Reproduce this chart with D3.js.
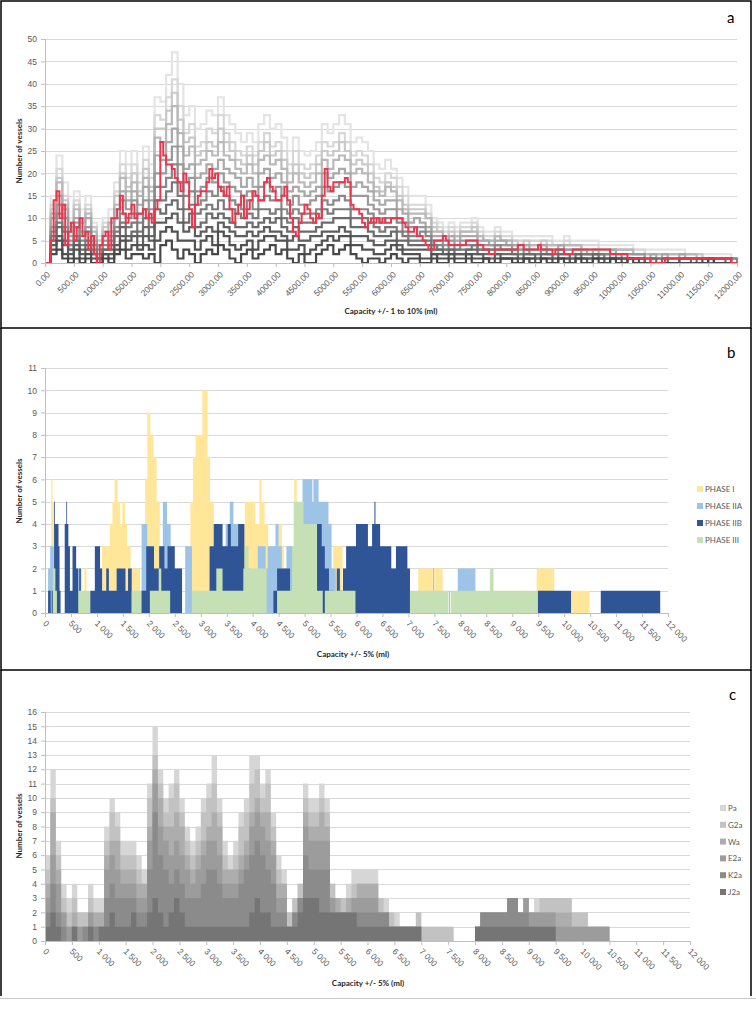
<!DOCTYPE html>
<html>
<head>
<meta charset="utf-8">
<script src="https://cdn.jsdelivr.net/npm/d3@7"></script>
<style>
body { margin: 0; background: #fff; }
svg { display: block; font-family: Lato, "Open Sans", sans-serif; }
.tick text { fill: #595959; font-size: 8.5px; }
.ttl { font-weight: bold; font-size: 8px; fill: #262626; }
.leg { font-size: 8px; fill: #595959; }
.letter { font-size: 15px; fill: #000; }
</style>
</head>
<body>
<svg id="chart" width="756" height="1015"></svg>
<script>
"use strict";

// ---- panel a : number of vessels per capacity, step 100 ml (gray) and 50 ml (red)
var capTicks = [0,500,1000,1500,2000,2500,3000,3500,4000,4500,5000,5500,6000,6500,7000,7500,8000,8500,9000,9500,10000,10500,11000,11500,12000];
var yTicksA = [0,5,10,15,20,25,30,35,40,45,50];
var yTicksB = [0,1,2,3,4,5,6,7,8,9,10,11];
var yTicksC = [0,1,2,3,4,5,6,7,8,9,10,11,12,13,14,15,16];

var grayLine1 = [0,2,3,1,0,1,0,1,0,0, 1,0,2,3,1,2,2,1,2,0, 4,5,3,1,3,2,0,2,3,2, 4,3,1,0,2,3,1,2,3,4, 2,3,1,0,2,0,0,2,3,4, 2,3,4,2,1,0,1,1,0,1, 2,1,0,1,1,0,0,1,0,0, 1,0,0,1,0,0,1,0,0,1, 1,0,0,1,0,0,1,0,0,1, 0,0,1,0,0,1,0,0,1,0, 0,1,0,0,0,0,0,0,0,0, 0,0,0,0,0,1,0,0,0,0, 0];
var grayLine2 = [0,3,5,2,1,3,1,2,1,0, 2,1,3,5,3,4,3,4,3,5, 7,8,7,5,5,5,3,5,6,4, 7,6,4,3,4,5,3,5,6,6, 5,5,3,3,4,2,3,4,5,6, 5,6,6,4,4,3,3,2,2,3, 4,3,2,2,2,1,1,2,1,1, 2,1,1,2,1,1,1,0,1,1, 1,1,0,1,1,0,1,1,0,1, 1,0,1,1,0,1,1,0,1,1, 0,1,1,0,0,0,0,0,0,0, 0,0,0,0,1,1,0,0,0,0, 0];
var grayLine3 = [0,4,6,4,2,4,2,3,2,1, 2,2,4,6,5,6,4,6,5,9, 9,10,11,9,7,8,6,7,8,7, 9,8,7,6,6,7,6,7,8,7, 7,6,5,6,5,5,6,6,7,7, 7,8,7,6,6,6,5,4,4,5, 5,4,3,3,3,3,3,2,2,2, 2,2,2,2,2,2,1,1,2,1, 1,1,1,1,1,1,1,1,1,1, 1,1,1,1,1,1,1,1,1,1, 1,1,1,1,0,0,0,0,0,0, 1,1,1,1,1,1,1,1,1,0, 0];
var grayLine4 = [0,5,8,5,3,5,3,4,2,1, 3,3,6,8,6,7,6,8,6,12, 11,13,14,12,9,11,8,9,11,10, 11,10,9,8,8,9,8,9,10,9, 10,8,7,8,7,7,7,8,9,9, 10,10,10,8,8,8,7,6,6,6, 7,5,5,4,4,4,4,3,3,2, 3,2,2,3,3,2,2,2,2,2, 2,2,1,2,2,1,2,2,1,2, 2,1,2,1,1,2,1,1,1,1, 1,1,1,1,0,1,0,1,0,0, 1,1,0,1,1,0,1,1,0,0, 0];
var grayLine5 = [0,6,9,7,3,6,4,5,3,1, 3,4,7,9,8,9,7,10,8,14, 14,16,18,15,12,13,11,12,13,12, 14,12,12,11,10,11,10,12,12,11, 12,10,9,10,9,9,9,10,12,11, 12,12,12,10,10,10,9,8,7,8, 8,7,6,5,5,5,5,4,3,3, 3,3,3,3,4,3,3,3,3,3, 3,2,2,2,2,2,2,2,2,2, 2,2,2,2,2,2,2,1,1,1, 1,1,1,1,1,1,1,1,1,1, 1,1,1,1,1,1,1,1,1,0, 0];
var grayLine6 = [0,7,11,8,4,8,5,7,4,2, 4,5,8,11,10,11,9,12,10,17, 17,19,22,18,15,16,13,14,16,15, 17,15,14,13,12,14,12,14,15,14, 14,12,11,12,11,11,11,12,14,13, 14,15,14,12,12,12,11,10,9,10, 10,9,7,6,6,7,6,4,4,3, 4,3,4,4,4,3,3,3,4,3, 3,3,2,3,2,2,3,2,2,3, 2,2,2,2,2,2,2,2,1,2, 1,1,1,1,1,1,1,1,1,1, 1,1,1,1,1,1,1,1,1,1, 0];
var grayLine7 = [0,8,13,10,5,9,6,8,5,3, 5,6,10,14,12,14,11,14,12,20, 20,23,26,22,18,19,16,17,19,18, 20,18,17,16,15,16,15,17,18,16, 17,15,13,15,13,13,14,15,17,16, 17,18,17,15,15,15,13,12,11,12, 12,10,9,8,8,8,7,5,5,4, 5,4,5,5,5,4,4,4,4,4, 4,3,3,3,3,3,3,3,3,3, 3,3,3,2,2,2,2,2,2,2, 2,2,2,2,1,1,1,1,1,1, 1,1,1,1,1,1,1,1,1,1, 1];
var grayLine8 = [0,10,15,12,6,10,7,10,6,4, 6,7,12,16,14,16,13,17,14,24, 23,27,30,26,21,22,19,20,22,21, 23,21,20,19,17,19,17,20,21,19, 20,18,16,17,16,15,16,17,20,19, 20,21,20,17,18,17,16,14,13,14, 14,12,11,9,10,9,8,6,6,5, 6,5,6,6,6,5,5,4,5,5, 4,4,3,4,3,3,4,3,3,4, 3,3,3,3,2,3,2,2,3,2, 2,2,2,2,1,2,1,2,1,1, 2,1,1,1,1,1,1,1,1,1, 1];
var grayLine9 = [0,11,18,13,7,12,9,11,7,4, 7,9,13,19,16,18,15,19,16,28, 27,31,35,29,24,26,22,23,25,24, 27,24,23,21,20,22,20,23,24,22, 23,21,18,20,18,17,18,20,23,21, 23,24,23,20,21,20,18,16,15,17, 16,14,12,11,11,11,10,7,7,6, 6,6,7,7,7,6,5,5,6,5, 5,4,4,4,4,4,4,4,4,4, 4,4,4,3,3,3,3,3,3,3, 3,3,2,2,2,2,2,2,2,2, 2,2,2,1,1,1,1,1,1,1, 1];
var grayLine10 = [0,12,19,14,8,13,10,12,8,5, 8,9,15,20,17,20,16,21,17,30, 30,34,38,32,27,28,24,25,27,26, 30,27,25,23,22,24,22,25,27,24, 25,23,20,22,20,19,20,22,25,24, 25,27,25,22,23,22,20,17,16,18, 17,15,13,12,12,12,10,8,7,6, 7,6,7,7,8,6,5,5,6,5, 5,5,4,5,4,4,5,4,4,4, 4,4,4,3,3,3,3,3,3,3, 3,3,2,2,2,2,2,2,2,2, 2,2,2,2,1,1,1,1,1,1, 1];
var grayLine11 = [0,13,21,15,9,14,10,13,8,5, 9,10,16,22,19,22,18,23,19,33, 32,37,41,35,29,31,26,27,30,29, 33,29,27,25,24,26,24,27,29,26, 27,25,22,25,22,21,22,24,27,26, 27,29,27,24,25,24,22,19,18,20, 19,17,15,13,13,13,11,9,8,7, 8,7,8,8,9,7,6,6,7,6, 6,5,5,5,5,5,5,5,4,4, 5,4,4,4,4,4,3,3,3,3, 3,3,3,3,2,2,2,2,2,2, 2,2,2,2,1,1,1,1,1,1, 1];
var grayLine12 = [0,15,24,18,10,16,12,15,9,6, 10,12,18,25,22,25,20,26,22,37, 36,42,47,40,33,35,30,31,34,33, 37,33,31,29,27,29,27,31,33,30, 31,28,25,28,25,24,25,27,31,29, 31,33,31,27,28,27,25,22,21,23, 21,19,17,15,15,15,13,10,9,8, 9,8,9,9,10,8,7,7,8,7, 7,6,6,6,6,6,6,6,5,5, 6,5,5,5,5,5,4,4,4,4, 4,4,3,3,3,3,3,3,3,3, 3,2,2,2,2,2,2,2,2,1, 1];
var grayColorsA = ['#474747','#525252','#5e5e5e','#6b6b6b','#7a7a7a','#898989','#999999','#a9a9a9','#b9b9b9','#c9c9c9','#d7d7d7','#e4e4e4'];

var redLine = [0,0,5,14,16,10,13,4,7,9, 5,8,10,6,7,3,6,2,0,4,
    6,7,3,10,10,12,15,11,9,11, 13,10,11,11,12,10,11,9,12,14,
    27,24,22,22,21,19,18,16,20,18, 12,8,13,15,16,16,18,21,19,20,
    17,16,15,17,12,9,11,13,15,10, 12,14,16,15,14,14,18,19,17,16,
    14,14,15,17,14,10,7,6,9,11, 13,12,10,9,11,10,15,21,17,16,
    18,18,18,18,19,18,13,12,12,11, 9,8,9,10,9,10,9,10,9,9,
    10,10,10,10,9,8,7,7,8,6, 6,5,4,3,3,5,5,5,6,5,
    4,4,4,4,4,4,5,5,5,5, 4,4,3,3,2,2,3,3,3,3,
    3,3,3,3,4,4,3,3,3,3, 3,4,3,3,3,3,2,3,3,3,
    2,2,2,3,3,3,3,3,3,3, 3,3,3,3,3,3,2,2,2,2,
    2,2,1,1,1,1,1,1,1,1, 0,0,0,0,0,1,1,1,1,1,
    1,1,1,1,1,1,1,1,1,1, 1,1,1,1,1,1,1,1,0,0,
    0];

// ---- panel b : [capacity where the step starts, number of vessels]
var phaseNames = ['PHASE I', 'PHASE IIA', 'PHASE IIB', 'PHASE III'];
var phaseColors = ['#ffe699', '#9dc3e6', '#2f5597', '#c5e0b4'];
var phase1 = [[0,0],[120,6],[145,5],[175,2],[210,0],[680,2],[720,0],[760,2],[800,0],
    [1100,3],[1250,4],[1300,5],[1340,6],[1400,5],[1450,4],[1490,5],[1540,4],[1580,3],[1650,2],[1830,0],
    [1930,6],[1970,9],[2030,8],[2090,7],[2150,5],[2210,2],[2280,0],
    [2800,5],[2850,7],[2900,8],[3030,10],[3130,7],[3180,5],[3250,0],
    [3650,4],[3850,5],[4050,4],[4130,6],[4170,5],[4230,4],[4300,3],[4370,0],
    [4500,4],[4560,3],[4600,0],[4800,6],[4850,5],[4900,0],[5550,3],[5730,0],
    [7190,2],[7470,0],[7500,2],[7660,0],[9470,2],[9810,0],[10150,1],[10490,0]];
var phase2a = [[60,2],[100,3],[170,2],[200,0],[640,2],[690,0],[1860,4],[1970,3],[2030,0],
    [2200,3],[2270,5],[2350,4],[2420,3],[2480,0],[2700,3],[2830,0],
    [3480,4],[3560,5],[3630,4],[3720,0],[4100,3],[4250,2],[4290,3],[4440,4],[4500,3],[4560,0],
    [4650,3],[4780,0],[4960,6],[5150,5],[5170,6],[5270,5],[5460,4],[5520,2],[5600,0],
    [7475,2],[7495,0],[7780,1],[7800,0],[7950,2],[8290,0]];
var phase2b = [[60,1],[110,0],[130,1],[175,5],[190,4],[260,3],[280,1],[300,0],
    [380,4],[410,5],[425,4],[450,3],[480,1],[530,3],[600,2],[640,1],[660,2],[690,0],
    [870,1],[960,3],[1060,2],[1100,1],[1180,2],[1230,1],[1380,2],[1550,1],[1600,2],[1670,0],
    [1850,1],[1950,3],[2100,2],[2200,3],[2300,2],[2360,3],[2500,2],[2640,0],
    [3170,3],[3250,4],[3420,3],[3520,4],[3580,3],[3720,4],[3840,2],[3920,1],[3960,0],
    [4400,1],[4470,2],[4720,0],[5220,4],[5330,3],[5390,2],[5470,1],[5550,0],
    [5620,2],[5680,1],[5740,2],[5800,3],[5990,4],[6220,3],[6300,4],[6345,5],[6365,4],
    [6455,3],[6670,2],[6760,3],[6980,2],[7030,0],[9490,1],[10135,0],[10705,1],[11850,0]];
var phase3 = [[150,2],[200,1],[230,0],[640,1],[870,0],[1670,1],[1860,0],
    [2020,1],[2190,2],[2240,1],[2410,0],[2830,1],[3300,2],[3420,1],[3820,2],[3850,3],[3920,2],[4270,0],
    [4470,1],[4760,3],[4790,5],[4980,4],[5240,1],[5350,0],[5390,1],[5980,0],
    [7030,1],[7770,0],[7815,1],[8570,2],[8640,1],[9490,0]];

// ---- panel c : number of vessels per 100 ml class
var groupNames = ['Pa', 'G2a', 'Wa', 'E2a', 'K2a', 'J2a'];
var groupColors = ['#d6d6d6', '#c2c2c2', '#adadad', '#9c9c9c', '#8b8b8b', '#757575'];
var groupPa  = [6,12,7,4,3,4,2,2,4,3, 3,8,10,9,7,7,7,6,5,11, 15,12,10,11,12,10,8,7,8,10, 11,13,10,7,6,7,9,10,13,13, 11,12,9,6,5,2,3,4,11,10, 10,11,10,4,3,3,4,5,5,5, 5,5,3,3,2,2,1,1,1,2, 1,1,1,1,1,1,0,0,0,0, 1,2,2,2,2,2,3,3,2,3, 2,3,3,3,3,3,3,3,2,2, 2,1,1,1,1,0,0,0,0,0, 0,0,0,0,0,0,0,0,0,0, 0];
var groupG2a = [5,10,6,3,2,3,2,2,3,2, 2,7,9,8,6,6,6,5,4,10, 13,11,9,10,11,9,7,6,7,9, 10,11,9,6,5,6,8,9,11,12, 10,11,8,5,4,2,3,4,10,9, 9,10,9,4,3,3,3,4,4,4, 4,4,3,2,2,1,1,1,1,2, 1,1,1,1,1,1,0,0,0,0, 1,2,2,2,2,2,3,3,2,3, 2,2,3,3,3,3,3,3,2,2, 2,1,1,1,1,0,0,0,0,0, 0,0,0,0,0,0,0,0,0,0, 0];
var groupWa  = [4,9,5,2,1,2,1,1,2,2, 2,6,7,7,5,5,5,4,4,8, 12,10,8,8,9,8,6,5,6,7, 8,9,8,5,5,5,6,7,9,10, 9,9,7,4,4,1,2,3,9,8, 8,9,8,3,3,2,3,3,4,4, 4,4,2,2,1,1,1,1,1,1, 0,0,0,0,0,0,0,0,0,0, 1,2,2,2,2,2,3,3,2,3, 2,2,2,2,2,2,2,2,1,1, 1,1,1,1,1,0,0,0,0,0, 0,0,0,0,0,0,0,0,0,0, 0];
var groupE2a = [3,6,4,2,1,1,1,1,2,1, 1,5,6,5,4,4,4,3,3,7, 11,8,7,6,7,6,5,4,5,6, 7,7,6,4,4,4,5,6,8,9, 8,7,6,3,3,1,2,3,8,7, 7,7,7,3,2,2,2,3,3,3, 3,3,2,2,1,1,1,1,1,1, 0,0,0,0,0,0,0,0,0,0, 1,2,2,2,2,2,3,3,2,3, 2,2,2,2,2,1,1,1,1,1, 1,1,1,1,1,0,0,0,0,0, 0,0,0,0,0,0,0,0,0,0, 0];
var groupK2a = [2,4,2,1,0,1,0,1,1,1, 1,3,4,3,3,3,3,2,2,5, 9,6,5,4,5,4,3,3,3,4, 5,5,4,3,3,3,4,5,6,7, 6,5,4,2,2,1,2,3,6,5, 5,5,5,2,2,2,2,2,2,2, 2,2,2,2,1,1,1,1,1,1, 0,0,0,0,0,0,0,0,0,0, 1,2,2,2,2,2,3,3,2,2, 1,1,1,1,1,0,0,0,0,0, 0,0,0,0,0,0,0,0,0,0, 0,0,0,0,0,0,0,0,0,0, 0];
var groupJ2a = [1,2,1,0,0,1,0,0,1,0, 1,1,2,1,1,1,2,1,1,2, 3,2,1,2,3,2,1,1,1,1, 1,1,1,1,1,1,1,1,2,3, 2,2,1,1,1,1,1,2,3,3, 3,2,2,2,2,2,2,2,1,1, 1,1,1,1,1,1,1,1,1,1, 0,0,0,0,0,0,0,0,0,0, 1,1,1,1,1,1,1,1,1,1, 1,1,1,1,1,0,0,0,0,0, 0,0,0,0,0,0,0,0,0,0, 0,0,0,0,0,0,0,0,0,0, 0];


var svg = d3.select('#chart');
var spaceFmt = d3.formatLocale({ decimal: ',', thousands: ' ', grouping: [3], currency: ['', ''] }).format(',');
function commaFmt( v ) { return v.toFixed(2).replace('.', ','); }

function makePanel( opt ) {
    var x = d3.scaleLinear().domain([0, 12000]).range([opt.left, opt.right]);
    var y = d3.scaleLinear().domain([0, opt.ymax]).range([opt.bottom, opt.top]);
    var g = svg.append('g');

    g.append('g').selectAll('line')
        .data(opt.yTicks.filter(function( d ) { return d > 0; }))
        .enter().append('line')
            .attr('x1', opt.left).attr('x2', opt.right)
            .attr('y1', function( d ) { return Math.round(y(d)) + 0.5; })
            .attr('y2', function( d ) { return Math.round(y(d)) + 0.5; })
            .attr('stroke', '#d9d9d9');

    var marks = g.append('g');

    var ya = g.append('g').attr('transform', 'translate(' + opt.left + ',0)')
        .call(d3.axisLeft(y).tickValues(opt.yTicks).tickSize(4).tickPadding(4));
    ya.select('.domain').attr('stroke', '#bfbfbf');
    ya.selectAll('.tick line').attr('stroke', '#bfbfbf');

    var xa = g.append('g').attr('transform', 'translate(0,' + opt.bottom + ')')
        .call(d3.axisBottom(x).tickValues(capTicks).tickSize(4).tickFormat(opt.fmt));
    xa.select('.domain').attr('stroke', '#bfbfbf');
    xa.selectAll('.tick line').attr('stroke', '#bfbfbf');
    xa.selectAll('.tick text').attr('x', 0).attr('y', 0).attr('dy', '0.35em');
    if ( opt.rotate < 0 ) {
        xa.selectAll('.tick text').attr('text-anchor', 'end').attr('transform', 'translate(3,10) rotate(-45)');
    } else {
        xa.selectAll('.tick text').attr('text-anchor', 'start').attr('transform', 'translate(-1,9) rotate(45)');
    }

    g.append('text').classed('ttl', true)
        .attr('x', opt.titleX).attr('y', opt.titleY).attr('text-anchor', 'middle').text(opt.title);
    g.append('text').classed('ttl', true)
        .attr('transform', 'translate(22,' + opt.ylabelY + ') rotate(-90)')
        .attr('text-anchor', 'middle').text('Number of vessels');
    g.append('text').classed('letter', true)
        .attr('x', opt.letterX).attr('y', opt.letterY).text(opt.letter);

    return { g: marks, x: x, y: y };
}

// panel frames
svg.append('rect').attr('x', 1).attr('y', 1).attr('width', 750).attr('height', 327)
    .attr('fill', 'none').attr('stroke', '#000').attr('stroke-width', 1.5);
svg.append('path').attr('d', 'M1,328V670H751V328').attr('fill', 'none').attr('stroke', '#000').attr('stroke-width', 1.5);
svg.append('path').attr('d', 'M1,670V996M751,670V996').attr('fill', 'none').attr('stroke', '#000').attr('stroke-width', 1.5);
svg.append('line').attr('x1', 0).attr('x2', 756).attr('y1', 998.5).attr('y2', 998.5).attr('stroke', '#c8c8c8');


// ---- a
var pa = makePanel({ left: 45, right: 737, top: 39, bottom: 263, ymax: 50, yTicks: yTicksA, fmt: commaFmt, rotate: -1,
    title: 'Capacity +/- 1 to 10% (ml)', titleX: 391, titleY: 314, ylabelY: 151, letter: 'a', letterX: 727, letterY: 23 });

var grayLines = [grayLine1, grayLine2, grayLine3, grayLine4, grayLine5, grayLine6,
    grayLine7, grayLine8, grayLine9, grayLine10, grayLine11, grayLine12];
var stepLine100 = d3.line().curve(d3.curveStepAfter)
    .x(function( d, i ) { return pa.x(i * 100); })
    .y(function( d ) { return pa.y(d); });

// lightest line first, darkest on top
pa.g.selectAll('.gray').data(grayLines.slice().reverse()).enter().append('path')
    .classed('gray', true)
    .attr('d', stepLine100)
    .attr('fill', 'none')
    .attr('stroke', function( d, i ) { return grayColorsA[grayColorsA.length - 1 - i]; })
    .attr('stroke-width', 2.2);

pa.g.append('path')
    .attr('d', d3.line().curve(d3.curveStepAfter)
        .x(function( d, i ) { return pa.x(i * 50); })
        .y(function( d ) { return pa.y(d); })(redLine))
    .attr('fill', 'none').attr('stroke', '#e8384f').attr('stroke-width', 2);


// ---- b
var pb = makePanel({ left: 45, right: 668, top: 368, bottom: 613, ymax: 11, yTicks: yTicksB, fmt: spaceFmt, rotate: 1,
    title: 'Capacity +/- 5% (ml)', titleX: 353, titleY: 657, ylabelY: 491, letter: 'b', letterX: 727, letterY: 358 });

var stepArea = function( p ) {
    return d3.area().curve(d3.curveStepAfter)
        .x(function( d ) { return p.x(d[0]); })
        .y0(p.y(0))
        .y1(function( d ) { return p.y(d[1]); });
};
var phases = [phase1, phase2a, phase2b, phase3];
pb.g.selectAll('.phase').data(phases).enter().append('path')
    .classed('phase', true)
    .attr('d', function( d ) { return stepArea(pb)(d.concat([[12000, 0]])); })
    .attr('fill', function( d, i ) { return phaseColors[i]; });

var legB = svg.append('g').selectAll('g').data(phaseNames).enter().append('g')
    .attr('transform', function( d, i ) { return 'translate(697,' + (489 + i * 17) + ')'; });
legB.append('rect').attr('x', 0).attr('y', -3).attr('width', 6).attr('height', 6)
    .attr('fill', function( d, i ) { return phaseColors[i]; });
legB.append('text').classed('leg', true).attr('x', 8).attr('y', 3).text(function( d ) { return d; });


// ---- c
var pc = makePanel({ left: 45, right: 690, top: 712, bottom: 941, ymax: 16, yTicks: yTicksC, fmt: spaceFmt, rotate: 1,
    title: 'Capacity +/- 5% (ml)', titleX: 368, titleY: 986, ylabelY: 826, letter: 'c', letterX: 729, letterY: 700 });

var groups = [groupPa, groupG2a, groupWa, groupE2a, groupK2a, groupJ2a];
pc.g.selectAll('.grp').data(groups).enter().append('path')
    .classed('grp', true)
    .attr('d', function( d ) {
        return stepArea(pc)(d.map(function( v, i ) { return [i * 100, v]; }));
    })
    .attr('fill', function( d, i ) { return groupColors[i]; });

var legC = svg.append('g').selectAll('g').data(groupNames).enter().append('g')
    .attr('transform', function( d, i ) { return 'translate(720,' + (808 + i * 16.8) + ')'; });
legC.append('rect').attr('x', 0).attr('y', -3).attr('width', 6).attr('height', 6)
    .attr('fill', function( d, i ) { return groupColors[i]; });
legC.append('text').classed('leg', true).attr('x', 8).attr('y', 3).text(function( d ) { return d; });
</script>
</body>
</html>
